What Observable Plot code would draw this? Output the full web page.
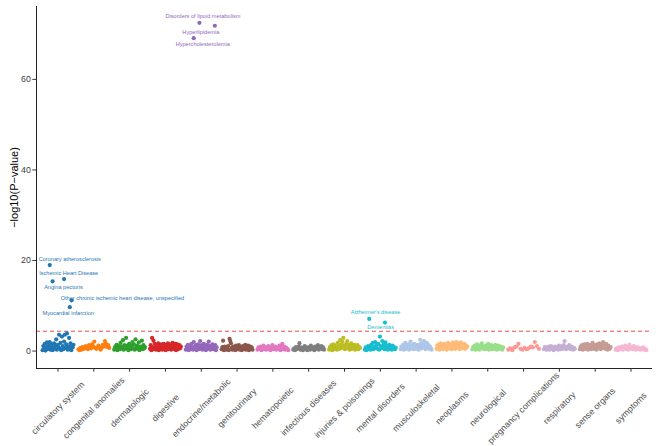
<!DOCTYPE html>
<html><head><meta charset="utf-8">
<script src="https://cdn.jsdelivr.net/npm/d3@7"></script>
<script src="https://cdn.jsdelivr.net/npm/@observablehq/plot@0.6"></script>
<style>body{margin:0;background:#fff} #chart{width:669px;height:446px}</style>
</head><body><div id="chart"></div>
<script>
// ---- data ----
const categories = ["circulatory system","congenital anomalies","dermatologic","digestive","endocrine/metabolic","genitourinary","hematopoietic","infectious diseases","injuries & poisonings","mental disorders","musculoskeletal","neoplasms","neurological","pregnancy complications","respiratory","sense organs","symptoms"];
const categoryColors = ["#1f77b4","#ff7f0e","#2ca02c","#d62728","#9467bd","#8c564b","#e377c2","#7f7f7f","#bcbd22","#17becf","#aec7e8","#ffbb78","#98df8a","#ff9896","#c5b0d5","#c49c94","#f7b6d2"];
const yTicks = [0, 20, 40, 60];
const threshold = 4.38;

// -log10(P) of the unlabelled phenotypes, in order within each category
const circulatory = [0.2,1.1,0.5,1.6,0.1,0.9,1.9,0.4,1.3,0.7,2.0,0.3,1.0,1.5,0.2,0.8,1.7,0.5,1.2,2.6,0.3,1.4,0.9,3.6,0.6,1.8,0.2,3.2,1.1,0.4,2.1,3.6,0.7,1.5,3.9,0.3,1.0,2.9,0.6,1.7,0.2,1.2,0.8,1.4];
const congenital = [0.4,0.2,0.7,0.3,0.9,0.5,0.6,1.1,0.8,0.4,1.3,0.9,0.6,1.5,1.0,2.1,0.7,0.5,0.9,1.2,0.6,0.3,0.8,1.4,1.0,2.2,1.6,0.9,1.3,0.7];
const dermatologic = [0.3,0.9,0.5,1.4,0.2,0.7,1.1,0.4,1.8,0.6,1.0,2.4,0.3,1.3,0.8,2.9,0.5,1.2,0.2,1.6,0.9,0.4,1.1,2.0,0.6,1.5,0.3,2.6,0.8,1.2,0.5,1.9,0.2,1.0,0.7,2.3,0.4,1.3,0.6,0.9];
const digestive = [0.5,1.3,0.2,2.9,0.8,2.3,0.4,1.6,1.0,0.3,1.4,0.7,1.7,0.2,1.1,0.6,1.5,0.9,0.3,1.2,1.6,0.5,1.0,0.2,1.4,0.8,1.7,0.4,1.2,0.6,1.5,0.3,1.0,1.8,0.5,1.3,0.7,1.6,0.2,1.1,1.5,0.4,0.9,1.3,0.6,1.0];
const endocrine = [0.3,1.0,0.6,1.4,0.2,0.8,1.2,0.4,1.6,0.7,0.3,2.0,1.0,0.5,1.3,0.2,0.9,1.5,0.4,1.1,2.2,0.6,1.3,0.3,0.8,1.6,0.5,1.2,0.2,1.0,1.4,0.6,2.1,0.9,0.3,1.2,0.7,1.5,0.4,1.0,0.6,1.3,0.2,0.8];
const genitourinary = [0.4,0.9,2.3,0.2,1.0,0.6,0.3,0.8,0.5,1.1,0.2,2.7,2.2,1.7,0.7,0.3,1.0,0.5,0.8,0.2,1.2,0.6,0.4,0.9,1.3,0.3,0.7,1.0,0.2,0.6,1.1,0.4,0.8,1.4,0.3,0.9,0.5,1.2,0.2,0.7,1.0,0.4,0.8,0.3];
const hematopoietic = [0.3,0.8,0.5,1.0,0.2,0.6,1.2,0.4,0.9,0.3,0.7,1.1,0.5,0.2,0.8,1.3,0.4,0.6,1.0,0.3,0.7,0.5,1.2,0.2,0.9,1.6,0.4,1.0,0.3,0.7,0.5,0.2];
const infectious = [0.3,0.6,0.2,0.9,0.4,0.7,1.0,1.75,0.3,0.8,0.5,0.2,0.6,1.1,0.4,0.8,0.2,0.5,0.9,0.3,1.2,0.6,0.4,0.8,0.2,1.0,0.5,0.7,1.3,0.3,0.9,0.6,1.1,0.4,0.8,0.3];
const injuries = [0.3,0.9,0.5,1.3,0.2,0.8,1.5,0.4,1.1,0.6,0.3,1.8,1.0,0.5,2.4,1.4,0.7,2.0,2.9,1.2,0.4,0.9,1.6,2.2,0.6,1.3,0.3,1.0,1.7,0.5,1.2,0.8,1.4,0.3,1.0,0.6,1.3,0.4,0.9,0.7];
const mental = [0.3,0.8,0.2,0.5,1.1,0.4,0.9,0.3,1.4,0.6,1.8,0.4,1.0,2.0,0.7,1.3,0.5,1.6,0.3,3.2,1.1,0.6,2.2,0.9,1.5,0.4,1.9,0.8,1.2,0.3,0.7,1.4,0.5,1.0,0.3,1.2,0.6,0.9,0.4,0.7];
const musculoskeletal = [0.4,1.0,0.6,1.4,0.3,0.9,1.8,0.5,1.2,0.8,1.5,0.3,1.1,2.1,0.6,1.3,0.9,0.4,1.6,1.0,0.5,1.2,0.8,1.4,0.3,1.0,2.5,1.7,0.6,1.3,0.9,2.2,1.5,0.4,1.1,1.8,0.7,1.3,0.5,1.0,0.6,0.3];
const neoplasms = [0.5,1.2,0.8,1.5,0.3,1.0,1.7,0.6,1.3,0.4,1.1,1.6,0.7,1.4,0.3,1.0,1.8,0.6,1.2,0.9,1.5,0.4,1.1,1.9,0.7,1.4,0.5,1.2,2.0,1.7,0.8,1.4,0.4,1.1,1.9,1.5,0.6,1.3,0.9,1.6,0.5,1.2,0.8,1.0];
const neurological = [0.4,0.9,0.6,1.2,0.3,0.8,1.5,0.5,1.1,0.3,0.7,1.3,1.7,0.6,1.0,0.4,0.8,1.2,0.5,1.0,1.6,0.3,0.9,0.6,1.3,0.4,0.8,1.1,0.5,1.4,1.0,0.3,0.7,1.2,0.9,0.5,1.0,0.6,0.3,0.8];
const pregnancy = [0.3,0.6,0.2,0.8,1.0,1.6,0.5,0.3,0.7,0.4,0.6,1.0,0.8,2.0,1.1,0.5];
const respiratory = [0.4,0.9,0.6,0.3,0.8,0.5,1.0,0.3,0.7,1.1,0.5,0.8,0.2,0.6,1.0,0.4,0.7,0.9,0.3,1.2,0.6,0.4,0.8,1.1,0.5,1.3,2.2,0.9,0.4,0.7,1.0,0.6,1.3,0.8,0.4,1.0,0.6,0.3,0.7,0.5];
const senseOrgans = [0.4,1.0,0.6,1.3,0.3,0.8,1.5,0.5,1.1,0.7,1.6,0.3,1.0,0.6,1.4,0.4,1.2,1.8,0.8,0.5,1.3,0.9,0.3,1.5,1.0,0.6,1.7,1.2,0.4,0.9,1.4,2.0,0.7,1.1,0.5,1.6,1.0,0.3,1.2,0.8,0.5,0.9];
const symptoms = [0.3,0.6,0.2,0.8,0.4,0.5,1.0,0.3,0.7,1.2,0.5,0.9,0.3,1.4,0.6,0.8,0.4,1.1,0.6,0.3,0.9,0.5,0.7,0.3,0.6,0.4,0.8,0.3,0.5,0.2];

// labelled phenotypes: name, category index, position within category, -log10(P)
const labelNames = ["Coronary atherosclerosis","Ischemic Heart Disease","Angina pectoris","Other chronic ischemic heart disease, unspecified","Myocardial infarction","Disorders of lipoid metabolism","Hyperlipidemia","Hypercholesterolemia","Alzheimer's disease","Dementias"];
const labelCategory = [0,0,0,0,0,4,4,4,9,9];
const labelOrder = [-0.23,0.17,-0.15,0.38,0.33,-0.05,0.38,-0.21,-0.31,0.13];
const labelValue = [19.0,15.9,15.4,11.2,9.7,72.5,71.85,69.1,7.1,6.3];

// ---- build table ----
const groups = [circulatory,congenital,dermatologic,digestive,endocrine,genitourinary,hematopoietic,infectious,injuries,mental,musculoskeletal,neoplasms,neurological,pregnancy,respiratory,senseOrgans,symptoms];
const points = [];
groups.forEach((vals, c) => vals.forEach((v, i) => points.push({cat: c, pos: c + (i / (vals.length - 1) - 0.5) * 0.86, p: v})));
const labelled = labelNames.map((name, k) => ({name, cat: labelCategory[k], pos: labelCategory[k] + labelOrder[k], p: labelValue[k]}));
labelled.forEach(d => points.push(d));

// repel-style label offsets (layout)
const labelShift = {
  "Coronary atherosclerosis": [20, -6],
  "Ischemic Heart Disease": [4.6, -6],
  "Angina pectoris": [10.8, 6],
  "Other chronic ischemic heart disease, unspecified": [50.8, -2.3],
  "Myocardial infarction": [-1.6, 5.6],
  "Disorders of lipoid metabolism": [3.5, -6.4],
  "Hyperlipidemia": [-14, 6.3],
  "Hypercholesterolemia": [9, 5.7],
  "Alzheimer's disease": [6.3, -6.6],
  "Dementias": [-4.3, 4.5]
};

const xDomain = [-0.6, 16.6];
const yDomain = [-3.85, 76.1];
const font = "'Liberation Sans', Arial, sans-serif";

const plot = Plot.plot({
  width: 669, height: 446,
  marginLeft: 36, marginRight: 17, marginTop: 6, marginBottom: 78,
  x: {type: "linear", domain: xDomain, axis: null},
  y: {type: "linear", domain: yDomain, axis: null},
  color: {type: "identity"},
  style: {fontFamily: font, background: "#fff", overflow: "visible"},
  marks: [
    Plot.ruleY([threshold], {stroke: "#f24848", strokeDasharray: "4,3", strokeWidth: 1}),
    Plot.dot(points, {x: "pos", y: "p", r: 2.1, fill: d => categoryColors[d.cat], stroke: null}),
    ...labelled.map(d => Plot.text([d], {
      x: "pos", y: "p", text: "name", fill: categoryColors[d.cat],
      fontSize: 5.6, textAnchor: "middle", lineAnchor: "middle",
      dx: labelShift[d.name][0], dy: labelShift[d.name][1]
    })),
    Plot.ruleX([xDomain[0]], {stroke: "#222", strokeWidth: 1}),
    Plot.ruleY([yDomain[0]], {stroke: "#222", strokeWidth: 1}),
    Plot.axisY(yTicks, {tickSize: 3.7, tickPadding: 2, fontSize: 8.8, color: "#3c3c3c", label: null}),
    Plot.axisX(d3.range(categories.length), {tickSize: 3.7, tickFormat: () => "", color: "#333", label: null}),
    Plot.text(categories, {x: (d, i) => i, text: d => d, frameAnchor: "bottom", rotate: -45,
      textAnchor: "middle", lineAnchor: "middle", dy: 39.5, fontSize: 8.8, fill: "#4d4d4d"}),
    Plot.text(["\u2212log10(P\u2212value)"], {frameAnchor: "left", rotate: -90, dx: -21.7,
      textAnchor: "middle", lineAnchor: "middle", fontSize: 11, fill: "#000"})
  ]
});
document.getElementById("chart").appendChild(plot);
</script>
</body></html>
